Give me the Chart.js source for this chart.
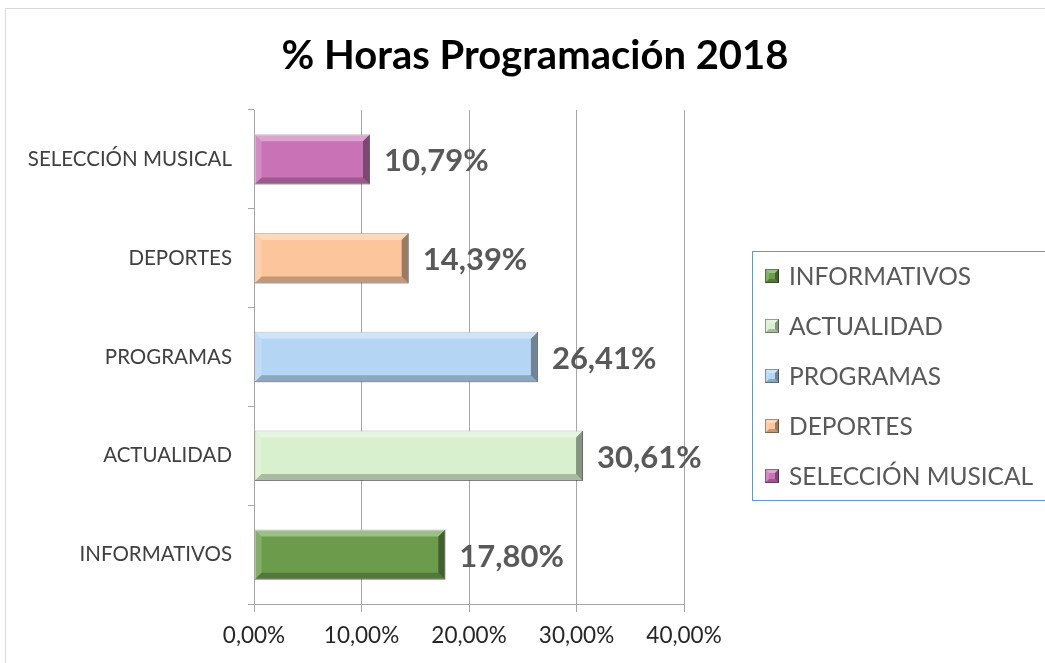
<!DOCTYPE html>
<html>
<head>
<meta charset="utf-8">
<script src="https://cdn.jsdelivr.net/npm/chart.js@4"></script>
<style>
html,body{margin:0;padding:0;background:#fff;}
#wrap{position:relative;width:1045px;height:663px;}
</style>
</head>
<body>
<div id="wrap"><canvas id="c" width="1045" height="663"></canvas></div>
<script>
const titleText = '% Horas Programación 2018';
const categories = ['INFORMATIVOS', 'ACTUALIDAD', 'PROGRAMAS', 'DEPORTES', 'SELECCIÓN MUSICAL'];
const values = [17.80, 30.61, 26.41, 14.39, 10.79];
const barColors = ['#6b9b4b', '#d9f0cf', '#b4d6f4', '#fcc59b', '#c973b6'];
const xTicks = [0, 10, 20, 30, 40];

const FONT = 'Lato, "Open Sans", sans-serif';
const fmt = v => v.toFixed(2).replace('.', ',') + '%';

const framePlugin = {
  id: 'frame',
  beforeDraw(chart) {
    const ctx = chart.ctx;
    ctx.save();
    ctx.fillStyle = '#fff';
    ctx.fillRect(0, 0, chart.width, chart.height);
    ctx.strokeStyle = '#d9d9d9';
    ctx.lineWidth = 1;
    ctx.strokeRect(5.5, 8.5, chart.width + 10, chart.height + 10);
    ctx.restore();
  }
};

const titlePlugin = {
  id: 'ttl',
  afterDraw(chart) {
    const ctx = chart.ctx;
    ctx.save();
    ctx.font = 'bold 40px ' + FONT;
    ctx.fillStyle = '#000';
    ctx.textAlign = 'center';
    ctx.textBaseline = 'middle';
    ctx.fillText(titleText, 535, 56);
    ctx.restore();
  }
};

function bevelRect(ctx, l, t, r, b, s) {
  ctx.fillStyle = 'rgba(255,255,255,0.35)';
  ctx.beginPath(); ctx.moveTo(l, t); ctx.lineTo(r, t); ctx.lineTo(r - s, t + s); ctx.lineTo(l + s, t + s); ctx.closePath(); ctx.fill();
  ctx.fillStyle = 'rgba(255,255,255,0.18)';
  ctx.beginPath(); ctx.moveTo(l, t); ctx.lineTo(l + s, t + s); ctx.lineTo(l + s, b - s); ctx.lineTo(l, b); ctx.closePath(); ctx.fill();
  ctx.fillStyle = 'rgba(0,0,0,0.22)';
  ctx.beginPath(); ctx.moveTo(l, b); ctx.lineTo(l + s, b - s); ctx.lineTo(r - s, b - s); ctx.lineTo(r, b); ctx.closePath(); ctx.fill();
  ctx.fillStyle = 'rgba(0,0,0,0.38)';
  ctx.beginPath(); ctx.moveTo(r, t); ctx.lineTo(r, b); ctx.lineTo(r - s, b - s); ctx.lineTo(r - s, t + s); ctx.closePath(); ctx.fill();
}

const bevelPlugin = {
  id: 'bevel',
  afterDatasetsDraw(chart) {
    const ctx = chart.ctx;
    const meta = chart.getDatasetMeta(0);
    ctx.save();
    meta.data.forEach((bar, i) => {
      const p = bar.getProps(['x', 'y', 'base', 'height'], true);
      const l = Math.min(p.base, p.x), r = Math.max(p.base, p.x);
      const t = p.y - p.height / 2, b = p.y + p.height / 2;
      bevelRect(ctx, l, t, r, b, 7);
      ctx.font = 'bold 31px ' + FONT;
      ctx.fillStyle = '#595959';
      ctx.textAlign = 'left';
      ctx.textBaseline = 'middle';
      ctx.fillText(fmt(values[i]), r + 14, p.y + 2);
    });
    ctx.restore();
  }
};

const legendPlugin = {
  id: 'legendBox',
  afterDraw(chart) {
    const ctx = chart.ctx;
    ctx.save();
    ctx.strokeStyle = '#5b9bd5';
    ctx.lineWidth = 1;
    ctx.strokeRect(752.5, 251.5, 300, 249);
    categories.forEach((c, i) => {
      const cy = 276 + i * 50;
      ctx.fillStyle = barColors[i];
      ctx.fillRect(765, cy - 7, 14, 14);
      bevelRect(ctx, 765, cy - 7, 779, cy + 7, 4);
      ctx.strokeStyle = 'rgba(0,0,0,0.35)';
      ctx.strokeRect(765.5, cy - 6.5, 13, 13);
      ctx.font = '24.5px ' + FONT;
      ctx.fillStyle = '#595959';
      ctx.textAlign = 'left';
      ctx.textBaseline = 'middle';
      ctx.fillText(c, 789, cy + 1);
    });
    ctx.restore();
  }
};

new Chart(document.getElementById('c'), {
  type: 'bar',
  data: {
    labels: categories,
    datasets: [{
      data: values,
      backgroundColor: barColors,
      borderColor: 'rgba(90,90,90,0.55)',
      borderWidth: 1,
      borderSkipped: false,
      categoryPercentage: 1,
      barPercentage: 0.51
    }]
  },
  options: {
    indexAxis: 'y',
    responsive: false,
    animation: false,
    layout: { padding: { top: 110, right: 361, bottom: 0, left: 0 } },
    plugins: { legend: { display: false }, title: { display: false }, tooltip: { enabled: false } },
    scales: {
      x: {
        min: 0, max: 40,
        afterFit(s) { s.height = 59; },
        afterBuildTicks(s) { s.ticks = xTicks.map(v => ({ value: v })); },
        ticks: {
          callback: v => fmt(v),
          color: '#262626',
          font: { family: FONT, size: 22.5 },
          padding: 10,
          maxRotation: 0
        },
        grid: { color: '#a6a6a6', tickLength: 8, drawTicks: true },
        border: { color: '#a6a6a6' }
      },
      y: {
        reverse: true,
        afterFit(s) { s.width = 254; },
        ticks: {
          color: '#404040',
          font: { family: FONT, size: 20.5 },
          padding: 16
        },
        grid: { offset: true, drawOnChartArea: false, color: '#a6a6a6', tickLength: 6 },
        border: { color: '#a6a6a6' }
      }
    }
  },
  plugins: [framePlugin, bevelPlugin, legendPlugin, titlePlugin]
});
</script>
</body>
</html>
